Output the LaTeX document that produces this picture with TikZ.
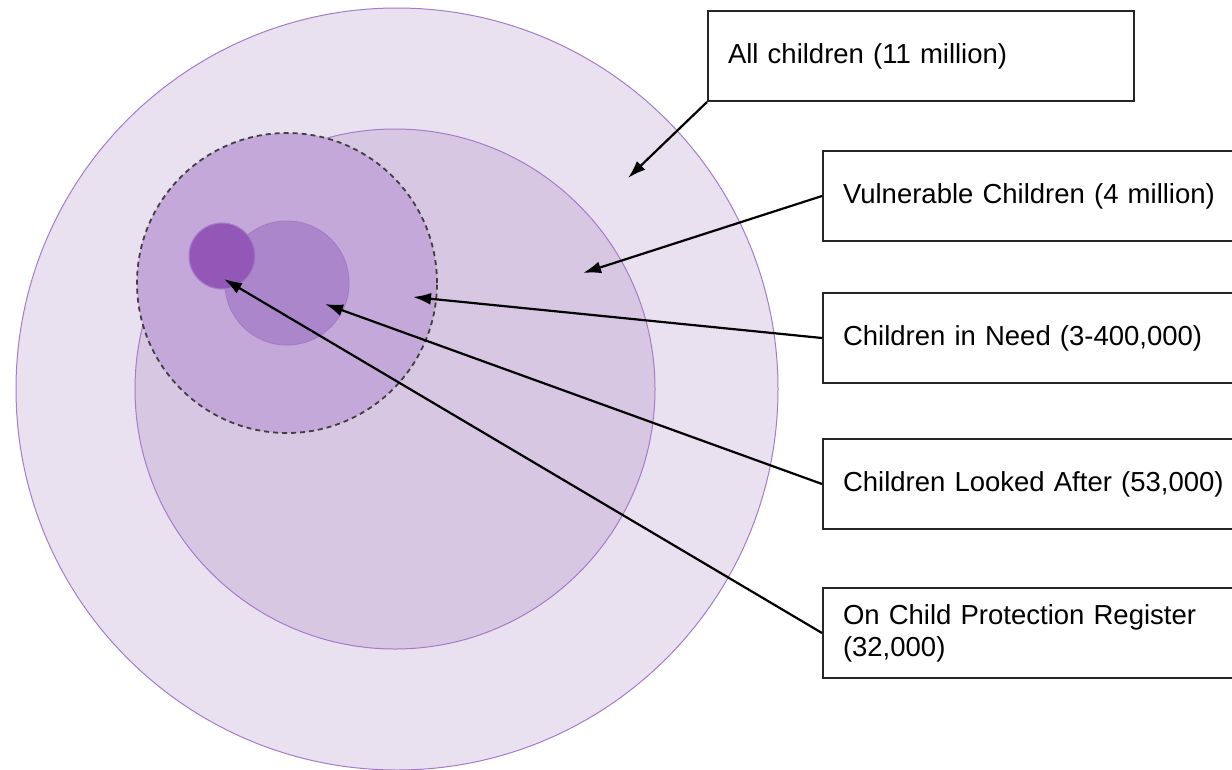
\documentclass[tikz,border=0pt]{standalone}
\usepackage{fontspec}
\setmainfont{Liberation Sans}
\usetikzlibrary{arrows.meta}
\definecolor{ringline}{HTML}{A57CC8}
\definecolor{allfill}{HTML}{E9E0F0}
\definecolor{vulfill}{HTML}{D7C7E3}
\definecolor{needfill}{HTML}{C5A8DA}
\definecolor{lacfill}{HTML}{AC86CB}
\definecolor{cprfill}{HTML}{9358B7}
\begin{document}
\begin{tikzpicture} [
                x=1pt, y=-1pt,
                ring/.style={circle,draw=ringline,line width=1pt,inner sep=0pt},
                dashed ring/.style={ring,draw=black!75,line width=1.8pt,dash pattern=on 5pt off 4pt},
                label box/.style={draw=black!85,line width=2pt,anchor=north west,
                    minimum height=90pt,text width=400pt,inner xsep=20pt,align=left,
                    font=\fontsize{27.5}{32}\selectfont},
                pointer/.style={draw,line width=2.2pt,-{Latex[length=18pt,width=12pt]}},
            ]
            \useasboundingbox (0,0) rectangle (1232,769);
            % First we draw the circles, largest first
            \foreach \pos/\size/\col/\name in {
                    {(397,389)/762/allfill/all}, {(395,389)/520/vulfill/vul}}
                \node[ring,fill=\col,minimum size=\size pt] (\name) at \pos {};
            \node[dashed ring,fill=needfill,minimum size=300pt] (need) at (287,283) {};
            \foreach \pos/\size/\col/\name in {
                    {(287,283)/124/lacfill/lac}, {(222,256)/66/cprfill/cpr}}
                \node[ring,fill=\col,minimum size=\size pt] (\name) at \pos {};
            % Label boxes
            \node[label box,text width=386pt] (allbox) at (707,10) {All children (11 million)};
            \foreach \ypos/\name/\txt in {
                    150/vulbox/{Vulnerable Children (4 million)},
                    292/needbox/{Children in Need (3-400,000)},
                    438/lacbox/{Children Looked After (53,000)},
                    587/cprbox/{On Child Protection Register\\(32,000)}}
                \node[label box] (\name) at (822,\ypos) {\txt};
            % Points the arrows end at
            \coordinate (allpt) at (628,178);
            \coordinate (vulpt) at (583,273);
            \coordinate (needpt) at (413,297);
            \coordinate (lacpt) at (325,304);
            \coordinate (cprpt) at (224,279);
            % Connect boxes with circles
            \path[pointer] (allbox.south west) -- (allpt);
            \path[pointer] (vulbox.west) -- (vulpt);
            \path[pointer] (needbox.west) -- (needpt);
            \path[pointer] (lacbox.west) -- (lacpt);
            \path[pointer] (cprbox.west) -- (cprpt);
        \end{tikzpicture}
\end{document}
